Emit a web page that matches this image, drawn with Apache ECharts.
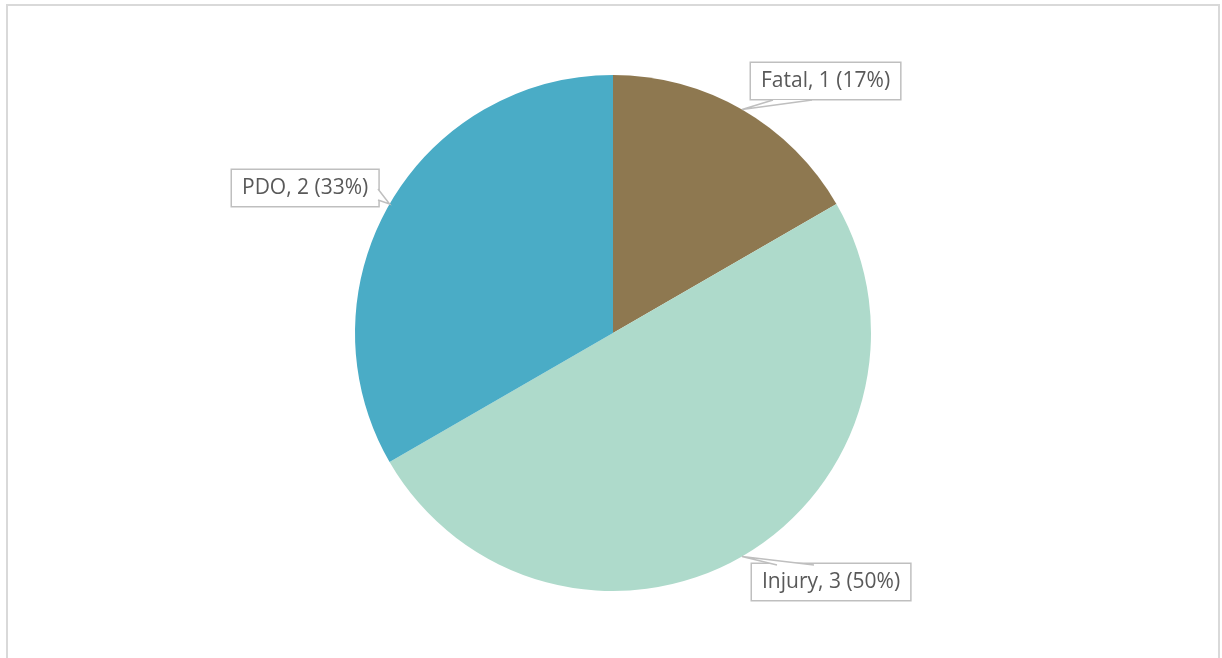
<!DOCTYPE html>
<html>
<head>
<meta charset="utf-8">
<script src="https://cdn.jsdelivr.net/npm/echarts@6/dist/echarts.min.js"></script>
<style>
  html, body { margin: 0; padding: 0; background: #ffffff; }
  #chart { width: 1222px; height: 658px; }
</style>
</head>
<body>
<div id="chart"></div>
<script>
// Crash counts by severity
const categories = ['Fatal', 'Injury', 'PDO'];
const counts = [1, 3, 2];
const sliceColors = ['#8E7850', '#AEDACB', '#4AACC6'];

// Callout boxes: top-left corner, and the two points where the pointer meets the box
const calloutCorners = [[751, 63], [752, 564], [232, 170]];
const calloutBases = [
  [[773, 100], [812, 100]],
  [[777, 565], [814, 565]],
  [[378, 189], [378, 200]]
];

const frameColor = '#d9d9d9';
const calloutColor = '#bfbfbf';

const chart = echarts.init(document.getElementById('chart'), null, { renderer: 'canvas' });

chart.setOption({
  animation: false,
  backgroundColor: '#ffffff',
  series: [{
    type: 'pie',
    center: [613, 333],
    radius: 258,
    startAngle: 90,
    clockwise: true,
    percentPrecision: 0,
    data: categories.map((name, i) => ({
      name: name,
      value: counts[i],
      itemStyle: { color: sliceColors[i] }
    })),
    itemStyle: { borderWidth: 0 },
    label: {
      show: true,
      position: 'outside',
      formatter: '{b}, {c} ({d}%)',
      fontFamily: 'Open Sans',
      fontSize: 21,
      lineHeight: 24,
      color: '#595959',
      backgroundColor: '#ffffff',
      borderColor: calloutColor,
      borderWidth: 1.5,
      padding: [6, 10, 6, 10]
    },
    labelLine: { show: false },
    labelLayout: function (params) {
      const c = calloutCorners[params.dataIndex];
      return { x: c[0], y: c[1], align: 'left', verticalAlign: 'top' };
    },
    emphasis: { disabled: true }
  }]
});

// Callout pointers: each starts on the rim at the middle of its slice
const pieData = chart.getModel().getSeriesByIndex(0).getData();
const pointers = [];
categories.forEach((name, i) => {
  const lay = pieData.getItemLayout(i);
  const mid = (lay.startAngle + lay.endAngle) / 2;
  const tip = [lay.cx + lay.r * Math.cos(mid), lay.cy + lay.r * Math.sin(mid)];
  const b = calloutBases[i];
  pointers.push({
    type: 'polygon',
    z: 100,
    silent: true,
    shape: { points: [b[0], tip, b[1]] },
    style: { fill: '#ffffff', stroke: null }
  });
  pointers.push({
    type: 'polyline',
    z: 101,
    silent: true,
    shape: { points: [b[0], tip, b[1]] },
    style: { fill: null, stroke: calloutColor, lineWidth: 1.5 }
  });
});

chart.setOption({
  graphic: [{
    type: 'rect',
    silent: true,
    shape: { x: 7, y: 5, width: 1212, height: 700 },
    style: { fill: 'none', stroke: frameColor, lineWidth: 2 }
  }].concat(pointers)
});
</script>
</body>
</html>
